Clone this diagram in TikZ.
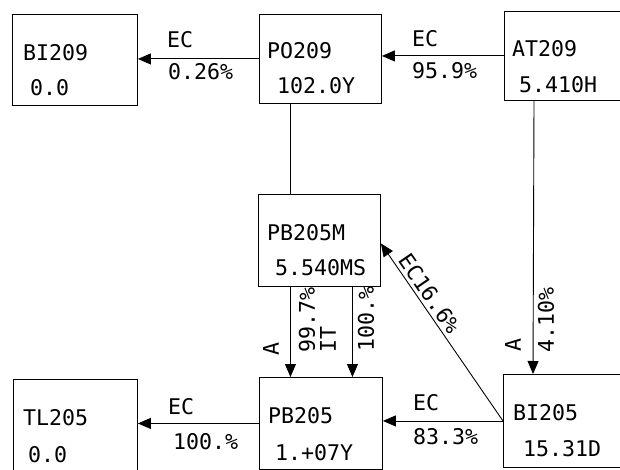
\documentclass[tikz,border=0pt]{standalone}
\usepackage{fontspec}
\newfontfamily\plotfont{DejaVu Sans Mono}
\usetikzlibrary{arrows.meta}

\begin{document}
\begin{tikzpicture}[
    x=1pt, y=1pt,
    font=\plotfont\fontsize{21.6}{24}\selectfont,
    box/.style={rectangle, draw, line width=0.9pt, anchor=north west,
        minimum width=122pt, minimum height=91pt, inner sep=0pt},
    nuc/.style={anchor=west, inner sep=0pt},
    lbl/.style={inner sep=0pt},
    decay/.style={line width=0.9pt, -{Triangle[length=13pt, width=11pt]}},
]

\useasboundingbox (0,0) rectangle (620,469);
\clip (0,0) rectangle (620,469);

% nuclide boxes
\node[box, minimum width=125pt] (bi209) at (12,455) {};
\node[box, minimum height=89pt] (po209) at (259,455) {};
\node[box, minimum height=89pt] (at209) at (504,458) {};
\node[box, minimum height=92pt] (pb205m) at (258,275) {};
\node[box, minimum width=124pt, minimum height=92pt] (tl205) at (13,90) {};
\node[box, minimum width=123pt, minimum height=92pt] (pb205) at (259,92) {};
\node[box, minimum height=93pt] (bi205) at (503,95) {};

% names and half-lives
\node[nuc] (bi209n) at (23,416) {BI209};
\node[nuc] (bi209t) at (30,381) {0.0};
\node[nuc] (po209n) at (267,418) {PO209};
\node[nuc] (po209t) at (277,383) {102.0Y};
\node[nuc] (at209n) at (512,420) {AT209};
\node[nuc] (at209t) at (519,384) {5.410H};
\node[nuc] (pb205mn) at (267,236) {PB205M};
\node[nuc] (pb205mt) at (275,201) {5.540MS};
\node[nuc] (tl205n) at (23,51) {TL205};
\node[nuc] (tl205t) at (28,14) {0.0};
\node[nuc] (pb205n) at (268,53) {PB205};
\node[nuc] (pb205t) at (275,16) {1.+07Y};
\node[nuc] (bi205n) at (513,56) {BI205};
\node[nuc] (bi205t) at (523,20) {15.31D};

% decays
\draw[decay] (po209.west) -- (bi209.east |- po209.west);
\draw[decay] (at209.west) -- (po209.east |- at209.west);
\draw[line width=0.9pt] ([xshift=-30pt]po209.south) -- ([xshift=-29pt]pb205m.north);
\draw[decay] ([xshift=30pt]at209.south west) -- ([xshift=30pt]bi205.north west);
\draw[decay] ([xshift=-29pt]pb205m.south) -- ([xshift=-29pt]pb205m.south |- pb205.north);
\draw[decay] ([xshift=33pt]pb205m.south) -- ([xshift=33pt]pb205m.south |- pb205.north);
\draw[decay] (bi205.west) -- (pb205.east |- bi205.west);
\draw[decay] (pb205.west) -- (tl205.east |- pb205.west);
\draw[decay] (bi205.west) -- node[lbl, pos=.68, sloped, above=3pt] (ec5) {EC16.6\%}
    ([yshift=-3pt]pb205m.east);

% branch labels
\node[lbl, anchor=west] (ec1) at (167,429) {EC};
\node[lbl, anchor=west] (br1) at (168,397) {0.26\%};
\node[lbl, anchor=west] (ec2) at (412,430) {EC};
\node[lbl, anchor=west] (br2) at (412,398) {95.9\%};
\node[lbl, anchor=west] (ec3) at (168,62) {EC};
\node[lbl, anchor=west] (br3) at (173,27) {100.\%};
\node[lbl, anchor=west] (ec4) at (413,66) {EC};
\node[lbl, anchor=west] (br4) at (413,32) {83.3\%};
\node[lbl, rotate=90] (a1) at (271,120) {A};
\node[lbl, rotate=90] (br5) at (307,149) {99.7\%};
\node[lbl, rotate=90] (it1) at (328,130) {IT};
\node[lbl, rotate=90] (br6) at (366,150) {100.\%};
\node[lbl, rotate=90] (a2) at (513,124) {A};
\node[lbl, rotate=90] (br7) at (546,149) {4.10\%};

\end{tikzpicture}
\end{document}
